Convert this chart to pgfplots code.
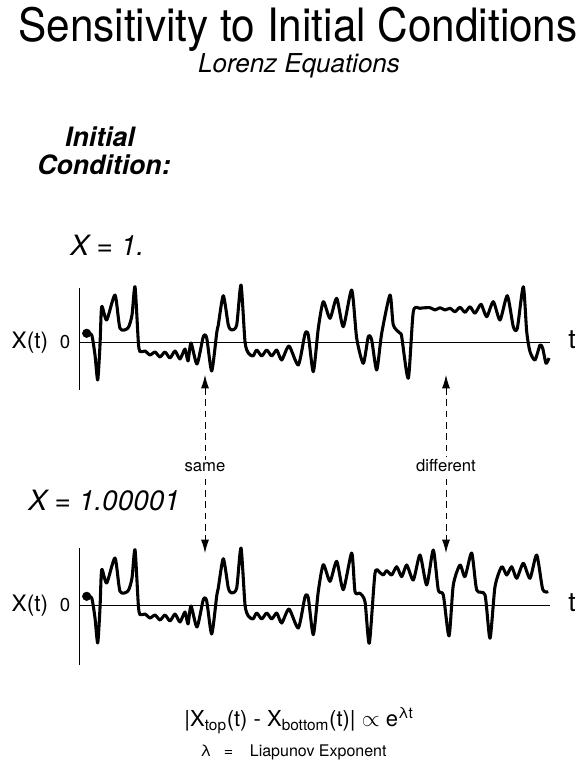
\documentclass[border=0pt]{standalone}
\usepackage{fontspec}
\setmainfont{TeX Gyre Heros}
\usepackage{graphicx}
\usepackage{pgfplots}
\pgfplotsset{compat=1.18}
\usetikzlibrary{arrows.meta}

% X(t); t and X in arbitrary units
\pgfplotstableread{
t x
7.7 8.7
12.7 7
16 -13
18.7 -38
21 -3
22.7 35.3
27.7 22
36 47
41 13.7
49 14
53 27
56 55.3
59.3 0.3
61 -9.7
66 -9
71 -13
76 -10
81 -15
86 -10
91 -16
96 -9
101 -17
106 -7
109 -19
112 -1
118 -22
124.3 5.3
127.7 4
132.7 -29
137.7 9
139.3 17
144.3 46.3
149.3 17
152.7 12
157.7 17
162 57
166 0.3
169.3 -11
174 -14
177.7 -8
182.7 -14
187.7 -8
192.7 -14
197.7 -8
202.7 -18
210 -4
219.3 -23
226 8
229.3 7
234.3 -29.7
239.3 13.7
244.3 40.3
251 23.7
257.7 43.7
264.3 15.3
272.7 52
277.7 3.7
284.3 -21.3
289.3 5.3
292.7 2
297.7 -28
302.7 8.7
311 47
314.3 17
321 8.7
322.7 5.3
329.3 -36.3
334.3 30.3
341 33.7
351 34.3
356 32
361 34.3
366 32
371 33.7
376 30.3
381 34.7
386 29.7
391 35.3
396 28.7
402 37.7
407.7 25.3
414.3 40.3
421 22
428.3 46.3
434.3 15.3
438.3 13.7
444.3 55.3
447.7 10.3
451 -9.7
456 -18
461 -3
463.7 -6.3
467 -21.3
470 -16
}\topdata

\pgfplotstableread{
t x
7.7 8.7
12.7 7
16 -13
18.7 -38
21 -3
22.7 35.3
27.7 22
36 47
41 13.7
49 14
53 27
56 55.3
59.3 0.3
61 -9.7
66 -9
71 -13
76 -10
81 -15
86 -10
91 -16
96 -9
101 -17
106 -7
109 -19
112 -1
118 -22
124.3 5.3
127.7 4
132.7 -29
137.7 9
139.3 17
144.3 46.3
149.3 17
152.7 12
157.7 17
162 57
166 0.3
169.3 -11
174 -14
177.7 -8
182.7 -14
187.7 -8
192.7 -14
197.7 -8
202.7 -18
210 -4
219.3 -23
226 8
229.3 7
234.3 -29.7
239.3 13.7
244.3 40.3
251 23.7
257.7 43.7
264.3 15.3
272.7 52
276 13.3
281 11.7
286 3.3
290.3 -38.3
296 31.7
301 32.3
304.3 30
307.7 34.3
312.7 30
317.7 38.3
322.7 28.3
327.7 40
334.3 25
341 50
347.7 20
354.3 55
359.3 15
364.3 10
370 -31
374.3 20
381 40
386 28.3
392.7 52
397.7 15
406 10
411 -33.3
416 18.3
422.7 38.3
427.7 30
432.7 38.3
437.7 26.7
444.3 41.7
451 26.7
457.7 50
463.7 15.7
469.3 13.3
}\bottomdata

\pgfplotsset{lorenz/.style={
  scale only axis, width=353.25pt, height=105pt,
  xmin=0, xmax=471, ymin=-70, ymax=70,
  hide axis, clip=false, anchor=south west}}

\begin{document}
\begin{tikzpicture}[x=0.75pt,y=0.75pt]
\path (0,0) rectangle (581,761);

% top run (zero line at 342 px from the top)
\begin{axis}[lorenz, at={(59.25pt,261.75pt)}]
  \addplot[black, line width=0.6pt] coordinates {(0,0) (471,0)};
  \addplot[black, line width=0.6pt] coordinates {(0,-48) (0,54)};
  \addplot[black, line width=2.3pt, smooth, tension=0.4, line join=round] table {\topdata};
  \addplot[only marks, mark=*, mark size=3.2pt, black] coordinates {(7.7,8.7)};
\end{axis}

% bottom run (zero line at 605 px from the top)
\begin{axis}[lorenz, at={(59.25pt,64.5pt)}]
  \addplot[black, line width=0.6pt] coordinates {(0,0) (471,0)};
  \addplot[black, line width=0.6pt] coordinates {(0,-60) (0,57)};
  \addplot[black, line width=2.3pt, smooth, tension=0.4, line join=round] table {\bottomdata};
  \addplot[only marks, mark=*, mark size=3.2pt, black] coordinates {(7.7,8.7)};
\end{axis}

% titles
\node[anchor=base] at (298,719) {\fontsize{34.5}{40}\selectfont\scalebox{0.92}[1]{Sensitivity to Initial Conditions}};
\node[anchor=base] at (299,688) {\fontsize{19.5}{24}\selectfont\itshape Lorenz Equations};
\node[anchor=base] at (100,614) {\fontsize{20}{24}\selectfont\bfseries\itshape Initial};
\node[anchor=base] at (104,586) {\fontsize{20}{24}\selectfont\bfseries\itshape Condition:};
\node[anchor=base west, inner sep=0pt] at (70,505) {\fontsize{21}{25}\selectfont\itshape X = 1.};
\node[anchor=base west, inner sep=0pt] at (28,250) {\fontsize{21}{25}\selectfont\itshape X = 1.00001};

% axis labels
\foreach \yb in {412,149} {
  \node[anchor=base] at (30,\yb) {\fontsize{17}{19}\selectfont X(t)};
  \node[anchor=base] at (65,\yb) {\fontsize{14}{16}\selectfont 0};
  \node[anchor=base] at (572,\yb) {\fontsize{20}{22}\selectfont t};
}

% arrows
\foreach \xa in {205,446}
  \draw[dash pattern=on 5pt off 3.5pt, line width=0.7pt,
        {Latex[length=10pt,width=6pt]}-{Latex[length=10pt,width=6pt]}] (\xa,386) -- (\xa,208);
\node[anchor=base, fill=white, inner sep=2pt] at (205,289) {\fontsize{12.5}{14}\selectfont same};
\node[anchor=base, fill=white, inner sep=2pt] at (446,289) {\fontsize{12.5}{14}\selectfont different};

% formula
\node[anchor=base] at (299,34) {\fontsize{16.5}{19}\selectfont
  |X\textsubscript{top}(t) - X\textsubscript{bottom}(t)| $\propto$ e\textsuperscript{λt}};
\node[anchor=base west, inner sep=0pt] at (200,5) {\fontsize{12}{14}\selectfont
  λ\hspace{9.5pt}=\hspace{12.5pt}Liapunov Exponent};
\end{tikzpicture}
\end{document}
